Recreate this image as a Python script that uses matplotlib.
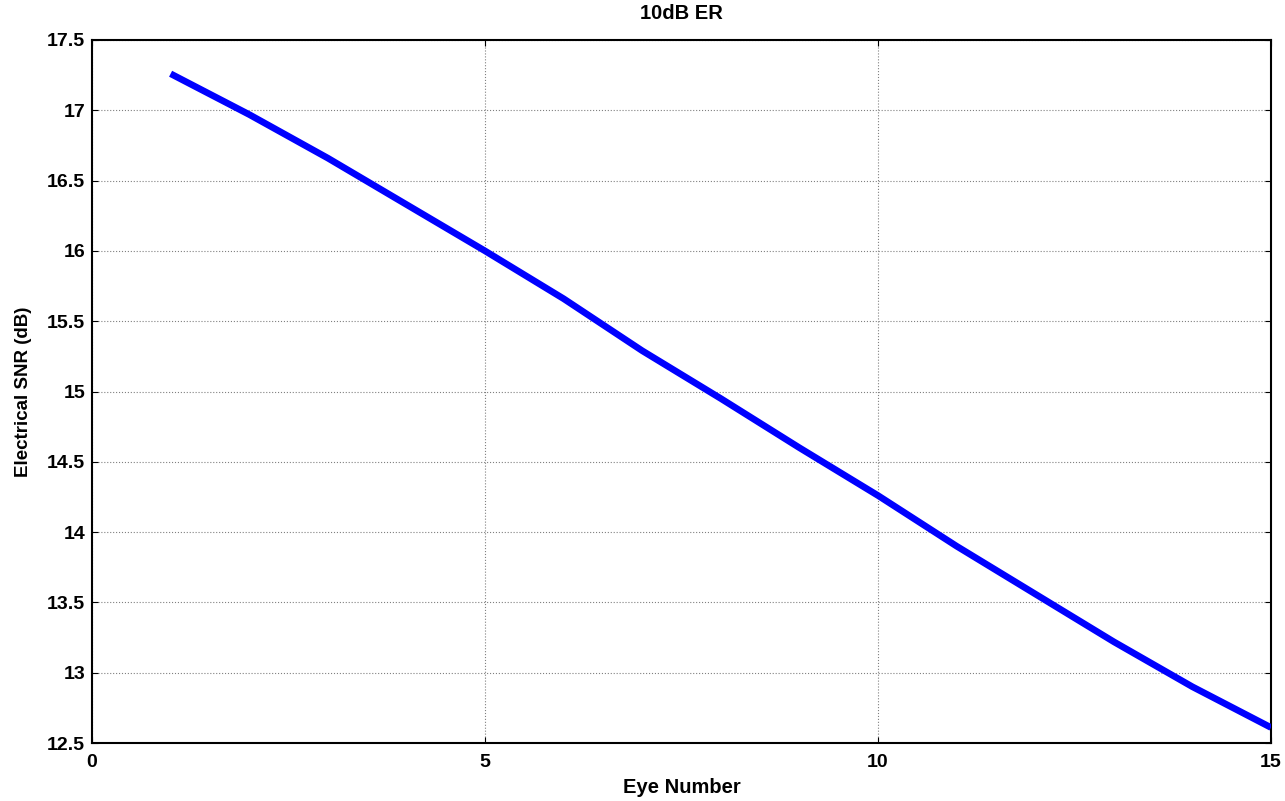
import matplotlib.pyplot as plt

# SNR per eye at 10 dB extinction ratio
eye_number = [1, 2, 3, 4, 5, 6, 7, 8, 9, 10, 11, 12, 13, 14, 15]
snr_db = [17.26, 16.97, 16.66, 16.33, 16.00, 15.66, 15.29, 14.95,
          14.60, 14.26, 13.90, 13.56, 13.22, 12.90, 12.61]
x_ticks = [0, 5, 10, 15]
y_ticks = [12.5, 13, 13.5, 14, 14.5, 15, 15.5, 16, 16.5, 17, 17.5]
y_tick_labels = ['12.5', '13', '13.5', '14', '14.5', '15', '15.5', '16', '16.5', '17', '17.5']

plt.rcParams['font.family'] = ['Liberation Sans', 'DejaVu Sans']
plt.rcParams['font.weight'] = 'bold'

fig = plt.figure(figsize=(12.85, 8.01), dpi=100)
ax = fig.add_axes([92 / 1285, 1 - 743 / 801, (1271 - 92) / 1285, (743 - 40) / 801])

ax.plot(eye_number, snr_db, color='#0000ff', linewidth=4.8, solid_capstyle='butt', zorder=3)

ax.set_xlim(0, 15)
ax.set_ylim(12.5, 17.5)
ax.set_xticks(x_ticks)
ax.set_yticks(y_ticks)
ax.set_yticklabels(y_tick_labels)
ax.grid(True, color='#808080', linestyle=':', linewidth=0.8)
ax.tick_params(direction='in', length=4, width=0.8, top=True, right=True, labelsize=14)
ax.tick_params(axis='x', pad=8)
ax.tick_params(axis='y', pad=5)
for lbl in ax.get_xticklabels() + ax.get_yticklabels():
    lbl.set_fontweight('bold')
for s in ax.spines.values():
    s.set_linewidth(1.5)

ax.set_xlabel('Eye Number', fontsize=14.5, fontweight='bold', labelpad=5)
ax.set_ylabel('Electrical SNR (dB)', fontsize=13.5, fontweight='bold', labelpad=11)
ax.set_title('10dB ER', fontsize=14.5, fontweight='bold', pad=15)

fig.savefig('out.png', dpi=100)
